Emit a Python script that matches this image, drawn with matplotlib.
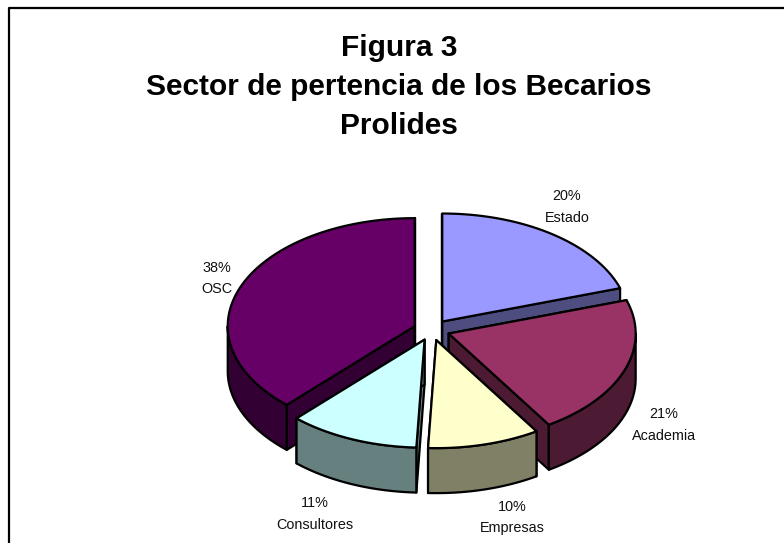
import numpy as np
import matplotlib
matplotlib.use("Agg")
import matplotlib.pyplot as plt

plt.rcParams['font.family'] = ['Liberation Sans', 'DejaVu Sans']

# shares, clockwise from 12 o'clock
sectors = ['Estado', 'Academia', 'Empresas', 'Consultores', 'OSC']
shares = [20.0, 21.0, 9.7, 11.3, 38.0]
top_colors = ['#9999FF', '#993366', '#FFFFCC', '#CCFFFF', '#660066']
side_colors = ['#4D4D80', '#4D1A33', '#808066', '#668080', '#330033']

# back to front
draw_order = [4, 0, 1, 3, 2]

label_pos = [(567, 207), (664, 425), (512, 517.5), (315, 514), (217, 278.5)]

cx, cy = 431.6, 330.0
rx, ry = 187.0, 108.0
depth = 45.0
explode = 0.097


def rim(ang, x0, y0):
    return x0 + rx * np.sin(ang), y0 - ry * np.cos(ang)


def draw_slice(ax, a0, a1, top, side):
    mid = (a0 + a1) / 2
    x0 = cx + explode * rx * np.sin(mid)
    y0 = cy - explode * ry * np.cos(mid)
    style = dict(edgecolor='black', linewidth=1.6, joinstyle='round')

    # radial walls
    for a in (a0, a1):
        xr, yr = rim(a, x0, y0)
        ax.fill([x0, xr, xr, x0], [y0, yr, yr + depth, y0 + depth],
                facecolor=side, **style)

    # outer wall, only the part facing the viewer
    lo, hi = max(a0, np.pi / 2), min(a1, 3 * np.pi / 2)
    if hi > lo:
        t = np.linspace(lo, hi, 80)
        xs, ys = rim(t, x0, y0)
        ax.fill(np.r_[xs, xs[::-1]], np.r_[ys, ys[::-1] + depth],
                facecolor=side, **style)

    t = np.linspace(a0, a1, 120)
    xs, ys = rim(t, x0, y0)
    ax.fill(np.r_[x0, xs], np.r_[y0, ys], facecolor=top, **style)


fig = plt.figure(figsize=(7.84, 5.43), dpi=100)
ax = fig.add_axes([0, 0, 1, 1])
ax.set_xlim(0, 784)
ax.set_ylim(543, 0)
ax.axis('off')

# chart frame, only left and top fall inside the picture
ax.plot([9, 9, 784], [543, 7.5, 7.5], color='black', lw=1.6)

edges = np.radians(np.r_[0, np.cumsum(shares)] * 3.6)
for i in draw_order:
    draw_slice(ax, edges[i], edges[i + 1], top_colors[i], side_colors[i])

ax.text(399, 87, 'Figura 3\nSector de pertencia de los Becarios\nProlides',
        ha='center', va='center', fontsize=21.5, fontweight='bold',
        linespacing=1.51, color='black')

for name, share, (x, y) in zip(sectors, shares, label_pos):
    ax.text(x, y, f'{share:.0f}%\n{name}', ha='center', va='center',
            fontsize=10.4, linespacing=1.65, color='#111111')

fig.savefig('out.png', dpi=100)
